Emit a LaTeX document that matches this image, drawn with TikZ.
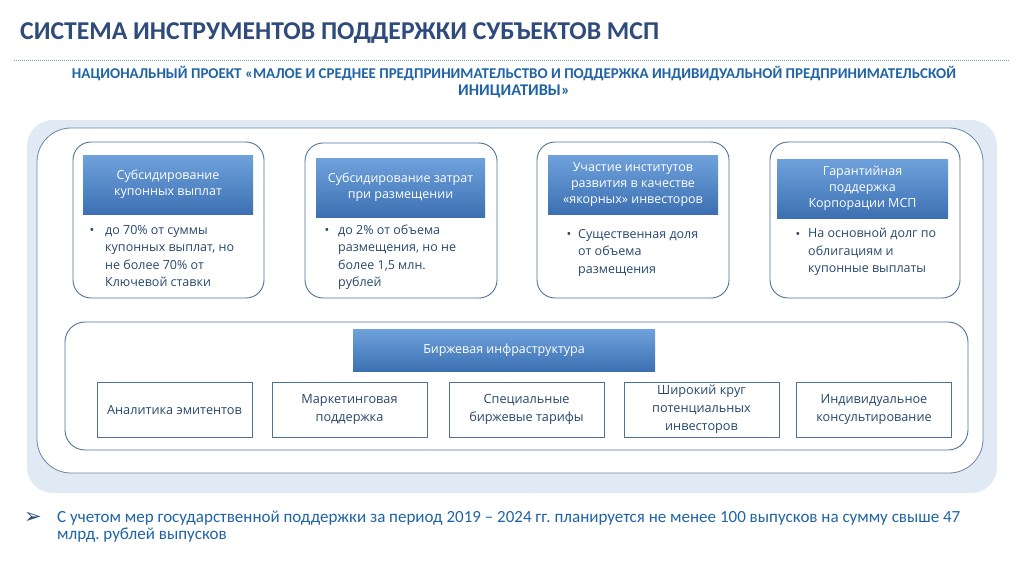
\documentclass[tikz,border=0pt]{standalone}
\usepackage{fontspec}
\setmainfont{Open Sans}
\newfontfamily\calib{Carlito}
\newfontfamily\djv{DejaVu Sans}
\usetikzlibrary{shadings}
\frenchspacing
\definecolor{navy}{HTML}{2F4B7C}
\definecolor{subblue}{HTML}{2064A6}
\definecolor{bordc}{HTML}{4F7398}
\definecolor{bodyc}{HTML}{27486D}
\definecolor{lightbg}{HTML}{E0E9F4}
\definecolor{hdtop}{HTML}{6FA2DC}
\definecolor{hdbot}{HTML}{3C70B2}
\tikzset{
  card/.style={draw=bordc, line width=0.9pt, rounded corners=18pt, fill=white, inner sep=0pt},
  hdr/.style={top color=hdtop, bottom color=hdbot, draw=none, inner sep=0pt, align=center,
    text=white, font=\fontsize{12.5}{16}\selectfont},
  bul/.style={inner sep=0pt, text=bodyc, font=\fontsize{12.5}{17.5}\selectfont},
  btxt/.style={inner sep=0pt, anchor=west, align=left, text=bodyc, font=\fontsize{12.5}{17.5}\selectfont},
  sq/.style={draw=bordc, line width=0.9pt, fill=white, inner sep=0pt, align=center,
    minimum width=155pt, minimum height=55pt, text=bodyc, font=\fontsize{12.7}{18}\selectfont},
}
\begin{document}
\begin{tikzpicture}[x=1pt,y=-1pt]
\useasboundingbox (0,0) rectangle (1024,574);
\fill[white] (0,0) rectangle (1024,574);
% title
\node[anchor=west, inner sep=0pt, text=navy, font=\calib\bfseries\fontsize{27}{30}\selectfont] (title) at (20,33)
  {\resizebox{639pt}{!}{СИСТЕМА ИНСТРУМЕНТОВ ПОДДЕРЖКИ СУБЪЕКТОВ МСП}};
\draw[bordc!70, line width=0.8pt, dash pattern=on 0.8pt off 1.2pt] (14,60) -- (1010,60);
\node[inner sep=0pt, text=subblue, font=\calib\bfseries\fontsize{15}{17}\selectfont] (sub1) at (514,74)
  {\resizebox{884pt}{!}{НАЦИОНАЛЬНЫЙ ПРОЕКТ «МАЛОЕ И СРЕДНЕЕ ПРЕДПРИНИМАТЕЛЬСТВО И ПОДДЕРЖКА ИНДИВИДУАЛЬНОЙ ПРЕДПРИНИМАТЕЛЬСКОЙ}};
\node[inner sep=0pt, text=subblue, font=\calib\bfseries\fontsize{15}{17}\selectfont] (sub2) at (514,91)
  {\resizebox{!}{10.6pt}{ИНИЦИАТИВЫ»}};
% panels
\fill[lightbg, rounded corners=26pt] (27,120) rectangle (997,493);
\draw[bordc!85, line width=0.8pt, fill=white, rounded corners=34pt] (37,128) rectangle (983,473);
% cards
\node[card, minimum width=191pt, minimum height=156pt] (c1) at (168.5,220) {};
\node[card, minimum width=192pt, minimum height=155pt] (c2) at (401,220.5) {};
\node[card, minimum width=192pt, minimum height=156pt] (c3) at (633,220) {};
\node[card, minimum width=190pt, minimum height=156pt] (c4) at (865,220) {};
\node[hdr, minimum width=170pt, minimum height=59pt] (h1) at (168,184.5) {Субсидирование\\купонных выплат};
\node[hdr, minimum width=169pt, minimum height=59pt] (h2) at (400.5,187.5) {Субсидирование затрат\\при размещении};
\node[hdr, minimum width=170pt, minimum height=59pt] (h3) at (633,184.5) {Участие институтов\\развития в качестве\\«якорных» инвесторов};
\node[hdr, minimum width=171pt, minimum height=59pt] (h4) at (862.5,188.5) {Гарантийная\\поддержка\\Корпорации МСП};
% bullets
\node[bul] (d1) at (92,231) {•};
\node[btxt] (t1) at (105,256) {до 70\% от суммы\\купонных выплат, но\\не более 70\% от\\Ключевой ставки};
\node[bul] (d2) at (327,231) {•};
\node[btxt] (t2) at (338,257) {до 2\% от объема\\размещения, но не\\более 1,5 млн.\\рублей};
\node[bul] (d3) at (569,235) {•};
\node[btxt] (t3) at (578,252.5) {Существенная доля\\от объема\\размещения};
\node[bul] (d4) at (798,235) {•};
\node[btxt] (t4) at (808,252) {На основной долг по\\облигациям и\\купонные выплаты};
% bottom section
\node[draw=bordc, line width=0.9pt, fill=white, rounded corners=20pt, minimum width=903pt, minimum height=128pt, inner sep=0pt] (bot) at (516.5,386) {};
\node[hdr, minimum width=302pt, minimum height=42pt] (bh) at (504,350) {Биржевая инфраструктура};
\node[sq] (s1) at (174.5,409.5) {Аналитика эмитентов};
\node[sq] (s2) at (349.5,409.5) {Маркетинговая\\поддержка};
\node[sq] (s3) at (526.5,409.5) {Специальные\\биржевые тарифы};
\node[sq] (s4) at (701.5,409.5) {Широкий круг\\потенциальных\\инвесторов};
\node[sq] (s5) at (874,409.5) {Индивидуальное\\консультирование};
% footnote
\node[inner sep=0pt, text=navy, font=\djv\fontsize{21}{22}\selectfont] (arr) at (33,518) {➢};
\node[anchor=west, align=left, inner sep=0pt, text=subblue, font=\calib\fontsize{17}{17}\selectfont] (foot) at (57,526.5)
  {С учетом мер государственной поддержки за период 2019 – 2024 гг. планируется не менее 100 выпусков на сумму свыше 47\\млрд. рублей выпусков};
\end{tikzpicture}
\end{document}
